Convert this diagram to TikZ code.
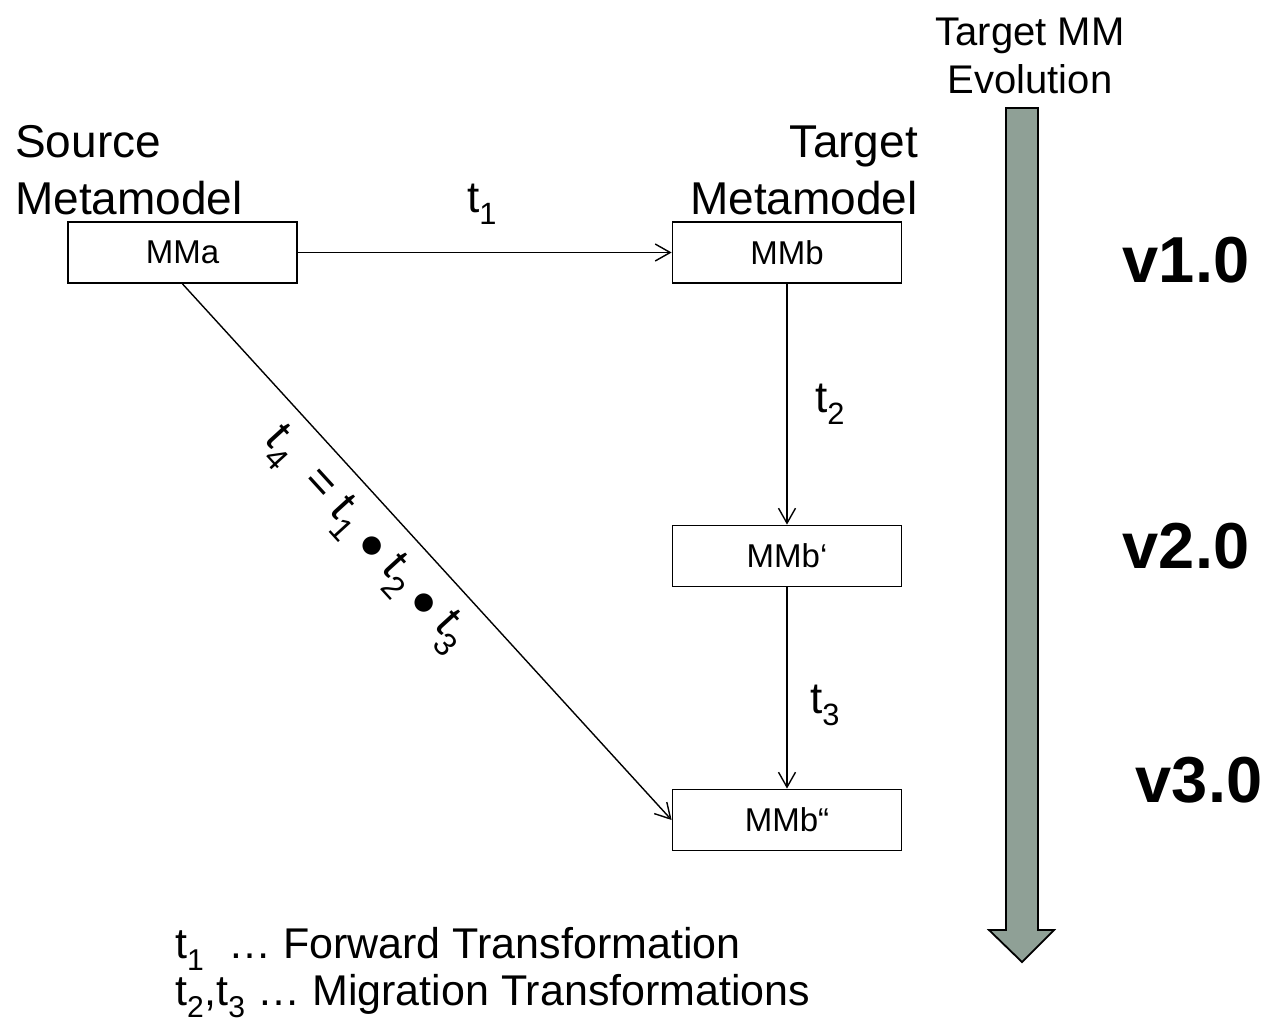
\documentclass[tikz,border=0pt]{standalone}
\usepackage{fontspec}
\setmainfont{Liberation Sans}
\newfontfamily\dejavu{DejaVu Sans}
\usetikzlibrary{arrows.meta}
\definecolor{arrowfill}{RGB}{143,160,150}
\newcommand\bigdot{{\dejavu\fontsize{24}{24}\selectfont\raisebox{0.12em}{●}}}
\begin{document}
\begin{tikzpicture}[x=1pt,y=-1pt,
  mmbox/.style={draw, line width=1.8pt, minimum width=229pt, minimum height=61pt, inner sep=0pt, font=\fontsize{33}{38}\selectfont},
  conn/.style={line width=1.4pt, -{Straight Barb[length=15pt,width=17pt,line width=1.4pt]}},
  biglbl/.style={font=\fontsize{46}{57}\selectfont},
  tlbl/.style={font=\fontsize{44}{52}\selectfont, anchor=base},
  verlbl/.style={font=\fontsize{65}{72}\selectfont\bfseries, anchor=base},
  legend/.style={font=\fontsize{43}{48}\selectfont, anchor=base west}
]
\useasboundingbox (0,0) rectangle (1264,1026);

% big evolution arrow
\filldraw[fill=arrowfill, draw=black, line width=1.8pt]
  (1006,108) -- (1038,108) -- (1038,930) -- (1054,930) -- (1022,962) -- (989,930) -- (1006,930) -- cycle;
\node[font=\fontsize{40}{48}\selectfont, align=center, anchor=base] (evo) at (1030,93) {Target MM\\Evolution};

% boxes
\node[mmbox] (MMa) at (182.5,252.5) {MMa};
\node[mmbox] (MMb) at (787,252.5) {MMb};
\node[mmbox] (MMbp) at (787,556) {MMb‘};
\node[mmbox] (MMbpp) at (787,820) {MMb“};

% titles
\node[biglbl, align=left, anchor=base west, inner sep=0pt] (src) at (15,214) {Source\\Metamodel};
\node[biglbl, align=right, anchor=base east, inner sep=0pt] (tgt) at (918,214) {Target\\Metamodel};

% connectors
\draw[conn] (MMa.east) -- (MMb.west);
\draw[conn] (MMb.south) -- (MMbp.north);
\draw[conn] (MMbp.south) -- (MMbpp.north);
\draw[conn] (MMa.south) -- (MMbpp.west)
  node[pos=0.43, sloped, below=12pt, font=\fontsize{46}{54}\selectfont] (t4) {t\textsubscript{4}\ \ = t\textsubscript{1} \bigdot\ t\textsubscript{2} \bigdot\ t\textsubscript{3}};

% labels
\node[tlbl] (t1) at (482,212) {t\textsubscript{1}};
\node[tlbl] (t2) at (830,412) {t\textsubscript{2}};
\node[tlbl] (t3) at (825,713) {t\textsubscript{3}};

% versions
\node[verlbl] (v1) at (1186,282) {v1.0};
\node[verlbl] (v2) at (1186,568) {v2.0};
\node[verlbl] (v3) at (1199,802) {v3.0};

% legend
\node[legend, inner sep=0pt] (lg1) at (175,958) {t\textsubscript{1}\ \ … Forward Transformation};
\node[legend, inner sep=0pt] (lg2) at (175,1005) {t\textsubscript{2},t\textsubscript{3} … Migration Transformations};
\end{tikzpicture}
\end{document}
